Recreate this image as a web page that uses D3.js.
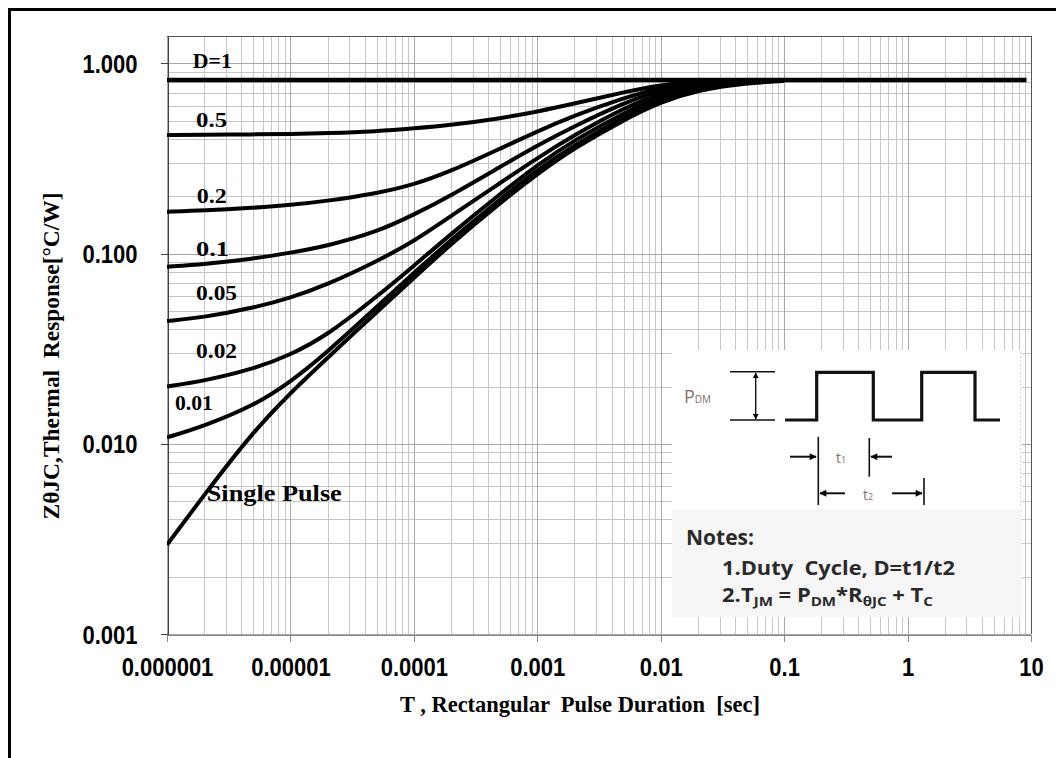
<!DOCTYPE html>
<html>
<head>
<meta charset="utf-8">
<title>Transient Thermal Response</title>
<style>
  body { margin: 0; background: #fff; }
  text { white-space: pre; }
</style>
</head>
<body>
<svg class="chart"></svg>
<script src="https://cdn.jsdelivr.net/npm/d3@7/dist/d3.min.js"></script>
<script>
const pulseTimes = [1e-6, 2e-6, 5e-6, 1e-5, 2e-5, 5e-5, 1e-4, 2e-4, 5e-4, 1e-3, 2e-3, 5e-3, 1e-2, 2e-2, 5e-2, 1e-1]
// thermal response per duty cycle, same order as pulseTimes
const duty05 = [0.420, 0.421, 0.423, 0.425, 0.429, 0.439, 0.455, 0.474, 0.513, 0.557, 0.614, 0.705, 0.771, 0.804, 0.815, 0.817]
const duty02 = [0.166, 0.168, 0.174, 0.180, 0.189, 0.207, 0.230, 0.271, 0.356, 0.439, 0.532, 0.658, 0.745, 0.792, 0.813, 0.817]
const duty01 = [0.0853, 0.0880, 0.0939, 0.1009, 0.1098, 0.1297, 0.160, 0.202, 0.2855, 0.370, 0.468, 0.618, 0.727, 0.785, 0.812, 0.817]
const duty005 = [0.0442, 0.0462, 0.0518, 0.0584, 0.0688, 0.0909, 0.1158, 0.1576, 0.235, 0.318, 0.420, 0.582, 0.698, 0.774, 0.812, 0.817]
const duty002 = [0.0200, 0.0214, 0.0247, 0.0293, 0.0373, 0.0592, 0.0861, 0.1268, 0.2057, 0.2921, 0.3954, 0.548, 0.673, 0.760, 0.807, 0.817]
const duty001 = [0.0108, 0.0124, 0.0158, 0.0211, 0.0304, 0.0524, 0.0791, 0.1179, 0.1936, 0.2750, 0.3721, 0.522, 0.645, 0.742, 0.797, 0.812]
const single = [0.00294, 0.00539, 0.01160, 0.01852, 0.0283, 0.0493, 0.0744, 0.1123, 0.1845, 0.2620, 0.3589, 0.504, 0.626, 0.724, 0.788, 0.807]
// D=1 is flat over the whole range
const unitTimes = [1e-6, 9.2]
const unitValues = [0.817, 0.817]

const xTicks = [1e-6, 1e-5, 1e-4, 1e-3, 1e-2, 1e-1, 1, 10]
const xTickLabels = ["0.000001", "0.00001", "0.0001", "0.001", "0.01", "0.1", "1", "10"]
const yTicks = [0.001, 0.01, 0.1, 1]
const yTickLabels = ["0.001", "0.010", "0.100", "1.000"]

// label anchors (baseline-left): [text, time, value, width px]
const curveLabels = [
    ["D=1", 1.62e-6, 0.945, 39],
    ["0.5", 1.72e-6, 0.463, 31],
    ["0.2", 1.74e-6, 0.1845, 30],
    ["0.1", 1.72e-6, 0.0971, 33],
    ["0.05", 1.72e-6, 0.057, 41],
    ["0.02", 1.72e-6, 0.0283, 41],
    ["0.01", 1.16e-6, 0.0151, 38],
    ["Single Pulse", 2.1e-6, 0.00501, 135]
]

var width = 1056, height = 758
const margin = { left: 167, right: 25, top: 36, bottom: 124 }

var svg = d3.select(".chart")
    .attr("width", width)
    .attr("height", height)
    .style("display", "block")

svg.append("rect").attr("width", width).attr("height", height).attr("fill", "#fff")

// outer frame (top + left only)
svg.append("line").attr("x1", 9).attr("x2", width).attr("y1", 9.5).attr("y2", 9.5)
    .attr("stroke", "#000").attr("stroke-width", 3)
svg.append("line").attr("x1", 9.5).attr("x2", 9.5).attr("y1", 8).attr("y2", height)
    .attr("stroke", "#000").attr("stroke-width", 3)

var xScale = d3.scaleLog()
    .domain([1e-6, 10])
    .range([margin.left, width - margin.right])

var yScale = d3.scaleLog()
    .domain([0.001, 1.392])
    .range([height - margin.bottom, margin.top])

const x0 = xScale.range()[0], x1 = xScale.range()[1]
const y0 = yScale.range()[0], y1 = yScale.range()[1]

// grid
const xMinor = [], yMinor = []
for (let e = -6; e < 1; e++) for (let m = 2; m < 10; m++) xMinor.push(m * Math.pow(10, e))
for (let e = -3; e < 0; e++) for (let m = 2; m < 10; m++) yMinor.push(m * Math.pow(10, e))

var grid = svg.append("g").attr("shape-rendering", "crispEdges")
grid.selectAll("line.vx").data(xMinor).enter().append("line")
    .attr("x1", d => Math.round(xScale(d)) + 0.5).attr("x2", d => Math.round(xScale(d)) + 0.5)
    .attr("y1", y1).attr("y2", y0).attr("stroke", "#c6c6c6")
grid.selectAll("line.hy").data(yMinor).enter().append("line")
    .attr("y1", d => Math.round(yScale(d)) + 0.5).attr("y2", d => Math.round(yScale(d)) + 0.5)
    .attr("x1", x0).attr("x2", x1).attr("stroke", "#c6c6c6")
grid.selectAll("line.vmaj").data(xTicks).enter().append("line")
    .attr("x1", d => Math.round(xScale(d)) + 0.5).attr("x2", d => Math.round(xScale(d)) + 0.5)
    .attr("y1", y1).attr("y2", y0).attr("stroke", "#a8a8a8")
grid.selectAll("line.hmaj").data(yTicks).enter().append("line")
    .attr("y1", d => Math.round(yScale(d)) + 0.5).attr("y2", d => Math.round(yScale(d)) + 0.5)
    .attr("x1", x0).attr("x2", x1).attr("stroke", "#a8a8a8")

// plot frame top/right
svg.append("path")
    .attr("d", `M${x0},${y1 + 0.5}H${x1 + 0.5}V${y0}`)
    .attr("fill", "none").attr("stroke", "#555").attr("shape-rendering", "crispEdges")

// axes
var xAxis = svg.append("g")
    .attr("transform", `translate(0, ${y0 + 0.5})`)
    .call(d3.axisBottom(xScale).tickValues(xTicks).tickFormat((d, i) => xTickLabels[i]).tickSize(7).tickSizeOuter(0))
xAxis.select(".domain").attr("stroke", "#888").attr("shape-rendering", "crispEdges")
xAxis.selectAll(".tick line").attr("stroke", "#888").attr("shape-rendering", "crispEdges")
xAxis.selectAll(".tick text")
    .attr("y", null).attr("dy", null)
    .attr("transform", "translate(0, 41) scale(0.88, 1)")
    .style("font-family", "'Liberation Sans', Arial, sans-serif")
    .style("font-weight", "bold").style("font-size", "25px").attr("fill", "#000")

var yAxis = svg.append("g")
    .attr("transform", `translate(${x0 + 0.5}, 0)`)
    .call(d3.axisLeft(yScale).tickValues(yTicks).tickFormat((d, i) => yTickLabels[i]).tickSize(7).tickSizeOuter(0))
yAxis.select(".domain").attr("stroke", "#444").attr("shape-rendering", "crispEdges")
yAxis.selectAll(".tick line").attr("stroke", "#444").attr("shape-rendering", "crispEdges")
yAxis.selectAll(".tick text")
    .attr("x", null).attr("dy", null)
    .attr("transform", "translate(-30, 9) scale(0.88, 1)")
    .style("font-family", "'Liberation Sans', Arial, sans-serif")
    .style("font-weight", "bold").style("font-size", "25px").attr("fill", "#000")

// curves
svg.append("clipPath").attr("id", "plot-clip").append("rect")
    .attr("x", x0).attr("y", y1).attr("width", x1 - x0).attr("height", y0 - y1)

var line = d3.line()
    .x(d => xScale(d[0]))
    .y(d => yScale(d[1]))
    .curve(d3.curveBasis)

const series = [duty05, duty02, duty01, duty005, duty002, duty001, single]
var curves = svg.append("g").attr("clip-path", "url(#plot-clip)")
curves.selectAll("path.duty")
    .data(series.map(s => pulseTimes.map((t, i) => [t, s[i]])))
    .enter()
    .append("path")
    .attr("d", line)
    .attr("fill", "none")
    .attr("stroke", "#000")
    .attr("stroke-width", 4)
    .attr("stroke-linejoin", "round")
curves.append("path")
    .attr("d", line(unitTimes.map((t, i) => [t, unitValues[i]])))
    .attr("fill", "none").attr("stroke", "#000").attr("stroke-width", 4.5)

// curve labels
svg.append("g").selectAll("text")
    .data(curveLabels)
    .enter()
    .append("text")
    .attr("x", d => xScale(d[1]))
    .attr("y", d => yScale(d[2]))
    .text(d => d[0])
    .attr("textLength", d => d[3])
    .attr("lengthAdjust", "spacingAndGlyphs")
    .style("font-family", "'Liberation Serif', 'Times New Roman', serif")
    .style("font-weight", "bold")
    .style("font-size", d => d[0] === "Single Pulse" ? "24px" : "22px")

// axis titles
svg.append("text")
    .attr("x", 400).attr("y", 712)
    .attr("textLength", 360).attr("lengthAdjust", "spacingAndGlyphs")
    .style("font-family", "'Liberation Serif', 'Times New Roman', serif")
    .style("font-weight", "bold").style("font-size", "24px")
    .text("T , Rectangular  Pulse Duration  [sec]")

svg.append("text")
    .attr("transform", "translate(59, 356) rotate(-90)")
    .attr("text-anchor", "middle")
    .attr("textLength", 327).attr("lengthAdjust", "spacingAndGlyphs")
    .style("font-family", "'Liberation Serif', 'Times New Roman', serif")
    .style("font-weight", "bold").style("font-size", "24px")
    .text("ZθJC,Thermal  Response[°C/W]")

// inset: pulse diagram + notes
var inset = svg.append("g")
inset.append("rect").attr("x", 672).attr("y", 350).attr("width", 350).attr("height", 159).attr("fill", "#fff")
inset.append("rect").attr("x", 672).attr("y", 509).attr("width", 350).attr("height", 108).attr("fill", "#f6f6f6")
inset.append("line").attr("x1", 1020.5).attr("x2", 1020.5).attr("y1", 352).attr("y2", 506)
    .attr("stroke", "#d8d8d8").attr("stroke-dasharray", "2,2")

var defs = svg.append("defs")
defs.append("marker").attr("id", "arrow").attr("viewBox", "0 0 10 10")
    .attr("refX", 9).attr("refY", 5).attr("markerWidth", 9).attr("markerHeight", 7)
    .attr("markerUnits", "userSpaceOnUse").attr("orient", "auto")
    .append("path").attr("d", "M0,0L10,5L0,10Z").attr("fill", "#000")
defs.append("marker").attr("id", "arrow-small").attr("viewBox", "0 0 10 10")
    .attr("refX", 9).attr("refY", 5).attr("markerWidth", 6).attr("markerHeight", 6)
    .attr("markerUnits", "userSpaceOnUse").attr("orient", "auto")
    .append("path").attr("d", "M0,0L10,5L0,10Z").attr("fill", "#000")

// pulse train
inset.append("path")
    .attr("d", "M785,420H816.7V372.3H873.3V420H921.7V372.3H975V420H1000")
    .attr("fill", "none").attr("stroke", "#111").attr("stroke-width", 3.2)

// P_DM dimension
inset.append("path").attr("d", "M730,371.7H775M730,420H775")
    .attr("stroke", "#111").attr("stroke-width", 1.6)
inset.append("line").attr("x1", 755.7).attr("x2", 755.7).attr("y1", 396).attr("y2", 373)
    .attr("stroke", "#111").attr("stroke-width", 1.4).attr("marker-end", "url(#arrow-small)")
inset.append("line").attr("x1", 755.7).attr("x2", 755.7).attr("y1", 396).attr("y2", 419)
    .attr("stroke", "#111").attr("stroke-width", 1.4).attr("marker-end", "url(#arrow-small)")
var pdm = inset.append("text").attr("x", 684).attr("y", 403)
    .style("font-family", "'Open Sans', Arial, sans-serif").style("font-size", "18px").attr("fill", "#86705f")
pdm.append("tspan").text("P")
pdm.append("tspan").style("font-size", "10px").text("DM")

// t1 / t2 markers
inset.append("path").attr("d", "M818.3,436.7V505M869.3,438V476.7M924,478V505")
    .attr("stroke", "#111").attr("stroke-width", 1.6)
inset.append("line").attr("x1", 790).attr("x2", 816).attr("y1", 456.7).attr("y2", 456.7)
    .attr("stroke", "#111").attr("stroke-width", 2).attr("marker-end", "url(#arrow)")
inset.append("line").attr("x1", 892).attr("x2", 871).attr("y1", 456.7).attr("y2", 456.7)
    .attr("stroke", "#111").attr("stroke-width", 2).attr("marker-end", "url(#arrow)")
inset.append("line").attr("x1", 845).attr("x2", 820).attr("y1", 493.3).attr("y2", 493.3)
    .attr("stroke", "#111").attr("stroke-width", 2).attr("marker-end", "url(#arrow)")
inset.append("line").attr("x1", 892).attr("x2", 922).attr("y1", 493.3).attr("y2", 493.3)
    .attr("stroke", "#111").attr("stroke-width", 2).attr("marker-end", "url(#arrow)")
inset.append("text").attr("x", 836).attr("y", 463)
    .style("font-family", "'Open Sans', Arial, sans-serif").style("font-size", "14px").attr("fill", "#86705f")
    .text("t").append("tspan").style("font-size", "9px").text("1")
inset.append("text").attr("x", 863).attr("y", 500)
    .style("font-family", "'Open Sans', Arial, sans-serif").style("font-size", "14px").attr("fill", "#86705f")
    .text("t").append("tspan").style("font-size", "9px").text("2")

// notes
var notesFont = "'Open Sans', 'Noto Sans', Arial, sans-serif"
inset.append("text").attr("x", 686).attr("y", 545)
    .style("font-family", notesFont).style("font-weight", "bold").style("font-size", "21px").attr("fill", "#2a2a2a")
    .text("Notes:")
inset.append("text").attr("x", 722).attr("y", 575)
    .attr("textLength", 233).attr("lengthAdjust", "spacingAndGlyphs")
    .style("font-family", notesFont).style("font-weight", "bold").style("font-size", "19px").attr("fill", "#2a2a2a")
    .text("1.Duty  Cycle, D=t1/t2")
var note2 = inset.append("text").attr("x", 722).attr("y", 606)
    .attr("textLength", 211).attr("lengthAdjust", "spacingAndGlyphs")
    .style("font-family", notesFont).style("font-weight", "bold").style("font-size", "19px").attr("fill", "#2a2a2a")
const note2Parts = [["2.T", false], ["JM", true], [" = P", false], ["DM", true], ["*R", false], ["θJC", true], [" + T", false], ["C", true]]
note2Parts.forEach(p => {
    note2.append("tspan")
        .attr("dy", p[1] ? 4 : (note2.selectAll("tspan").size() ? -4 : 0))
        .style("font-size", p[1] ? "13px" : "19px")
        .text(p[0])
})
</script>
</body>
</html>
